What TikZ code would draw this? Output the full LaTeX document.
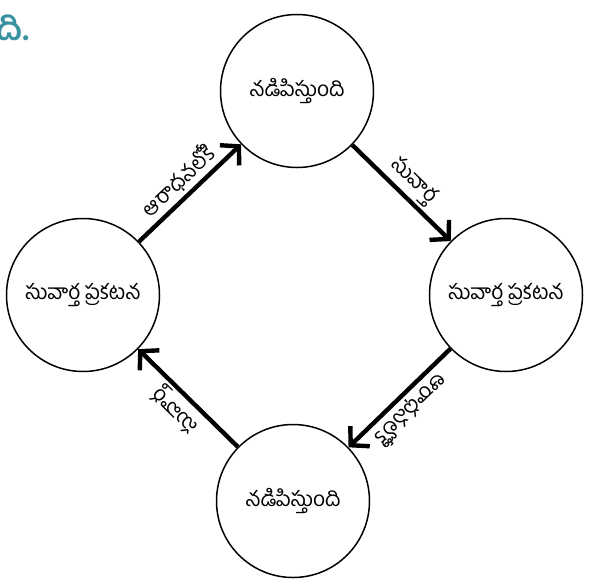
\documentclass[tikz,border=0pt]{standalone}
\usepackage{fontspec}
\newfontfamily\telfont[Script=Telugu]{Hind Guntur}
\usetikzlibrary{arrows.meta}
\definecolor{titleteal}{RGB}{58,146,160}
\begin{document}
\begin{tikzpicture}[x=1pt,y=-1pt,
  cyc/.style={circle,draw,line width=1.5pt,minimum size=153pt,inner sep=0pt,font=\telfont\fontsize{21}{23}\selectfont},
  arr/.style={line width=4.4pt,-{Straight Barb[length=13pt,width=28pt]}},
  lab/.style={sloped,allow upside down,above,font=\telfont\fontsize{21}{23}\selectfont,inner sep=3pt}]
\useasboundingbox (0,0) rectangle (596,582);
\node[anchor=base west,text=titleteal,font=\telfont\bfseries\fontsize{33}{35}\selectfont,inner sep=0pt] (title) at (-4,40) {ది.};
\node[cyc] (T) at (297,91) {నడిపిస్తుంది};
\node[cyc] (R) at (506,295) {సువార్త ప్రకటన};
\node[cyc] (B) at (293,501) {నడిపిస్తుంది};
\node[cyc] (L) at (83,295) {సువార్త ప్రకటన};
\draw[arr] (L) -- node[lab] {ఆరాధనలోకి} (T);
\draw[arr] (T) -- node[lab] {సువార్త} (R);
\draw[arr] (R) -- node[lab] {ఆరాధనలోకి} (B);
\draw[arr] (B) -- node[lab] {సువార్త} (L);
\end{tikzpicture}
\end{document}
